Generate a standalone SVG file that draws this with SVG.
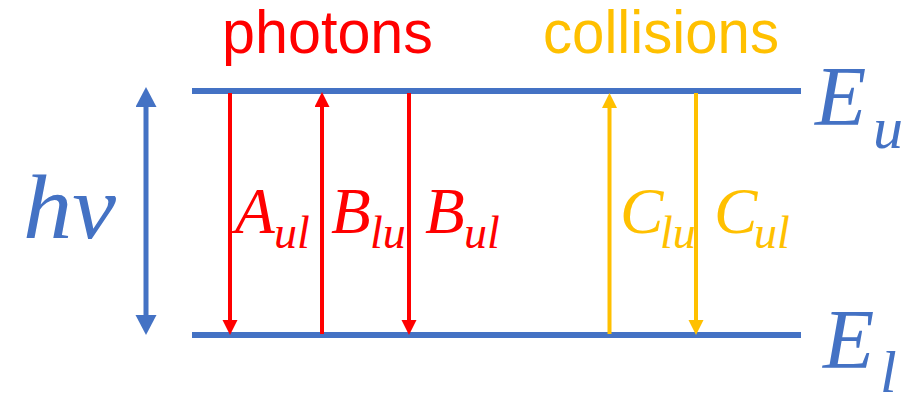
<svg xmlns="http://www.w3.org/2000/svg" width="901" height="396" viewBox="0 0 901 396">
<style>
.lvl{stroke:#4472C4;stroke-width:6;fill:none}
.red{stroke:#FF0000;stroke-width:4;fill:none}
.yel{stroke:#FFC000;stroke-width:4;fill:none}
.blu{stroke:#4472C4;stroke-width:5;fill:none}
.m{font-family:"Liberation Serif","Times New Roman",serif;font-style:italic}
.t{font-family:"Liberation Sans",Arial,sans-serif;font-size:61px}
</style>
<defs>
<marker id="hr" markerUnits="userSpaceOnUse" markerWidth="16" markerHeight="16" refX="1" refY="7.5" orient="auto"><path d="M0,0 L15,7.5 L0,15 z" fill="#FF0000"/></marker>
<marker id="hy" markerUnits="userSpaceOnUse" markerWidth="16" markerHeight="16" refX="1" refY="7.5" orient="auto"><path d="M0,0 L15,7.5 L0,15 z" fill="#FFC000"/></marker>
<marker id="hb" markerUnits="userSpaceOnUse" markerWidth="21" markerHeight="22" refX="1" refY="10.5" orient="auto-start-reverse"><path d="M0,0 L20,10.5 L0,21 z" fill="#4472C4"/></marker>
</defs>
<g id="upper-level"><line class="lvl" x1="192" y1="91" x2="801" y2="91"/>
<text class="m" x="815" y="125" font-size="84" fill="#4472C4">E<tspan x="873" y="148" font-size="60">u</tspan></text></g>
<g id="lower-level"><line class="lvl" x1="192" y1="335" x2="801" y2="335"/>
<text class="m" x="823" y="368" font-size="84" fill="#4472C4">E<tspan x="880" y="392" font-size="60">l</tspan></text></g>
<g id="hv-label"><text class="m" x="23" y="238" font-size="90" fill="#4472C4" textLength="93" lengthAdjust="spacingAndGlyphs">hν</text></g>
<g id="photons-label"><text class="t" x="222" y="53" fill="#FF0000" textLength="211" lengthAdjust="spacingAndGlyphs">photons</text></g>
<g id="collisions-label"><text class="t" x="543" y="53" fill="#FFC000" textLength="236" lengthAdjust="spacingAndGlyphs">collisions</text></g>
<g id="connectors">
<line class="blu" x1="146" y1="106" x2="146" y2="316" marker-start="url(#hb)" marker-end="url(#hb)"/>
<line class="red" x1="230" y1="93" x2="230" y2="321" marker-end="url(#hr)"/>
<line class="red" x1="322" y1="334" x2="322" y2="106" marker-end="url(#hr)"/>
<line class="red" x1="409" y1="93" x2="409" y2="321" marker-end="url(#hr)"/>
<line class="yel" x1="609.5" y1="334" x2="609.5" y2="107" marker-end="url(#hy)"/>
<line class="yel" x1="696" y1="93" x2="696" y2="321" marker-end="url(#hy)"/>
</g>
<g id="A-ul"><text class="m" x="235" y="233" font-size="65" fill="#FF0000">A<tspan x="274" y="248" font-size="46">ul</tspan></text></g>
<g id="B-lu"><text class="m" x="331" y="233" font-size="65" fill="#FF0000">B<tspan x="370" y="248" font-size="46">lu</tspan></text></g>
<g id="B-ul"><text class="m" x="425" y="233" font-size="65" fill="#FF0000">B<tspan x="464" y="248" font-size="46">ul</tspan></text></g>
<g id="C-lu"><text class="m" x="620" y="233" font-size="65" fill="#FFC000">C<tspan x="660" y="248" font-size="46">lu</tspan></text></g>
<g id="C-ul"><text class="m" x="714" y="233" font-size="65" fill="#FFC000">C<tspan x="754" y="248" font-size="46">ul</tspan></text></g>
</svg>
